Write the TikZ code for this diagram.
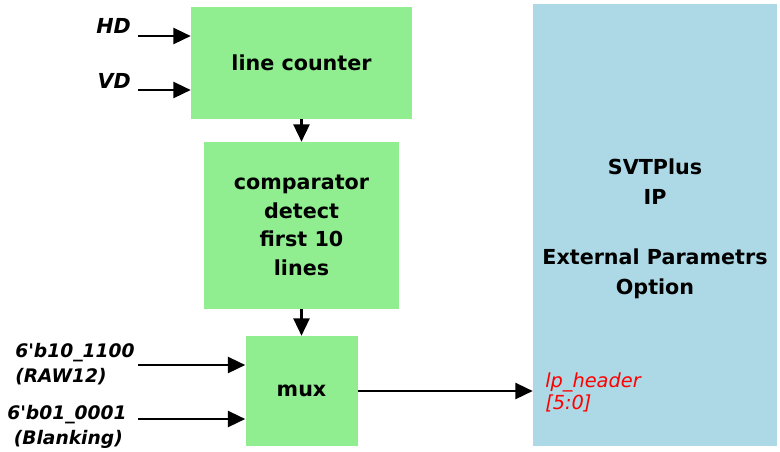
\documentclass[tikz,border=0pt]{standalone}
\usepackage{fontspec}
\setmainfont{DejaVu Sans}
\usepackage{xcolor}
\usetikzlibrary{arrows.meta}
\definecolor{blockgreen}{RGB}{144,238,144}
\definecolor{ipblue}{RGB}{173,216,230}

\begin{document}
\begin{tikzpicture}[x=0.75pt,y=-0.75pt,
    block/.style={fill=blockgreen,align=center,inner sep=0pt,
      font=\bfseries\fontsize{15.5}{21.5}\selectfont},
    ipbox/.style={fill=ipblue,align=center,inner sep=0pt,
      font=\bfseries\fontsize{15.5}{22.5}\selectfont},
    sig/.style={inner sep=0pt,align=left,
      font=\bfseries\itshape\fontsize{14}{18.75}\selectfont},
    arr/.style={line width=1.8pt,-{Triangle[length=13pt,width=12pt]}}]
  \useasboundingbox (0,0) rectangle (780,451);
  \node[block,minimum width=165.75pt,minimum height=84pt] (lc) at (301.5,63) {line counter};
  \node[block,minimum width=146.25pt,minimum height=125.25pt] (cmp) at (301.5,225.5)
    {comparator\\detect\\first 10\\lines};
  \node[block,minimum width=84pt,minimum height=82.5pt] (mux) at (301.5,391) {mux};
  \node[ipbox,minimum width=183pt,minimum height=331.5pt] (ip) at (655,225) {};
  \node[ipbox,fill=none] (iptxt) at (655,229)
    {SVTPlus\\IP\\[22.5pt]External Parametrs\\Option};

  \coordinate (hd) at (138,36);
  \coordinate (vd) at (138,90);
  \coordinate (raw) at (138,365);
  \coordinate (blank) at (138,419);
  \node[sig,anchor=base east,font=\bfseries\itshape\fontsize{15.5}{18}\selectfont] (hdlbl) at (131,33) {HD};
  \node[sig,anchor=base east,font=\bfseries\itshape\fontsize{15.5}{18}\selectfont] (vdlbl) at (131,88) {VD};
  \node[sig,anchor=west] (rawlbl) at (15,364) {6\textquotesingle b10\_1100\\(RAW12)};
  \node[sig,anchor=west] (blanklbl) at (7,427) {6\textquotesingle b01\_0001\\\ (Blanking)};
  \node[anchor=west,inner sep=0pt,align=left,text=red,
    font=\itshape\fontsize{14.5}{16.5}\selectfont] (hdr) at (545,392) {lp\_header\\{}[5:0]};

  \path[arr]
    (hd) edge (lc.west |- hd)
    (vd) edge (lc.west |- vd)
    (lc) edge (cmp)
    (cmp) edge (mux)
    (raw) edge (mux.west |- raw)
    (blank) edge (mux.west |- blank)
    (mux) edge (ip.west |- mux.east);
\end{tikzpicture}
\end{document}
